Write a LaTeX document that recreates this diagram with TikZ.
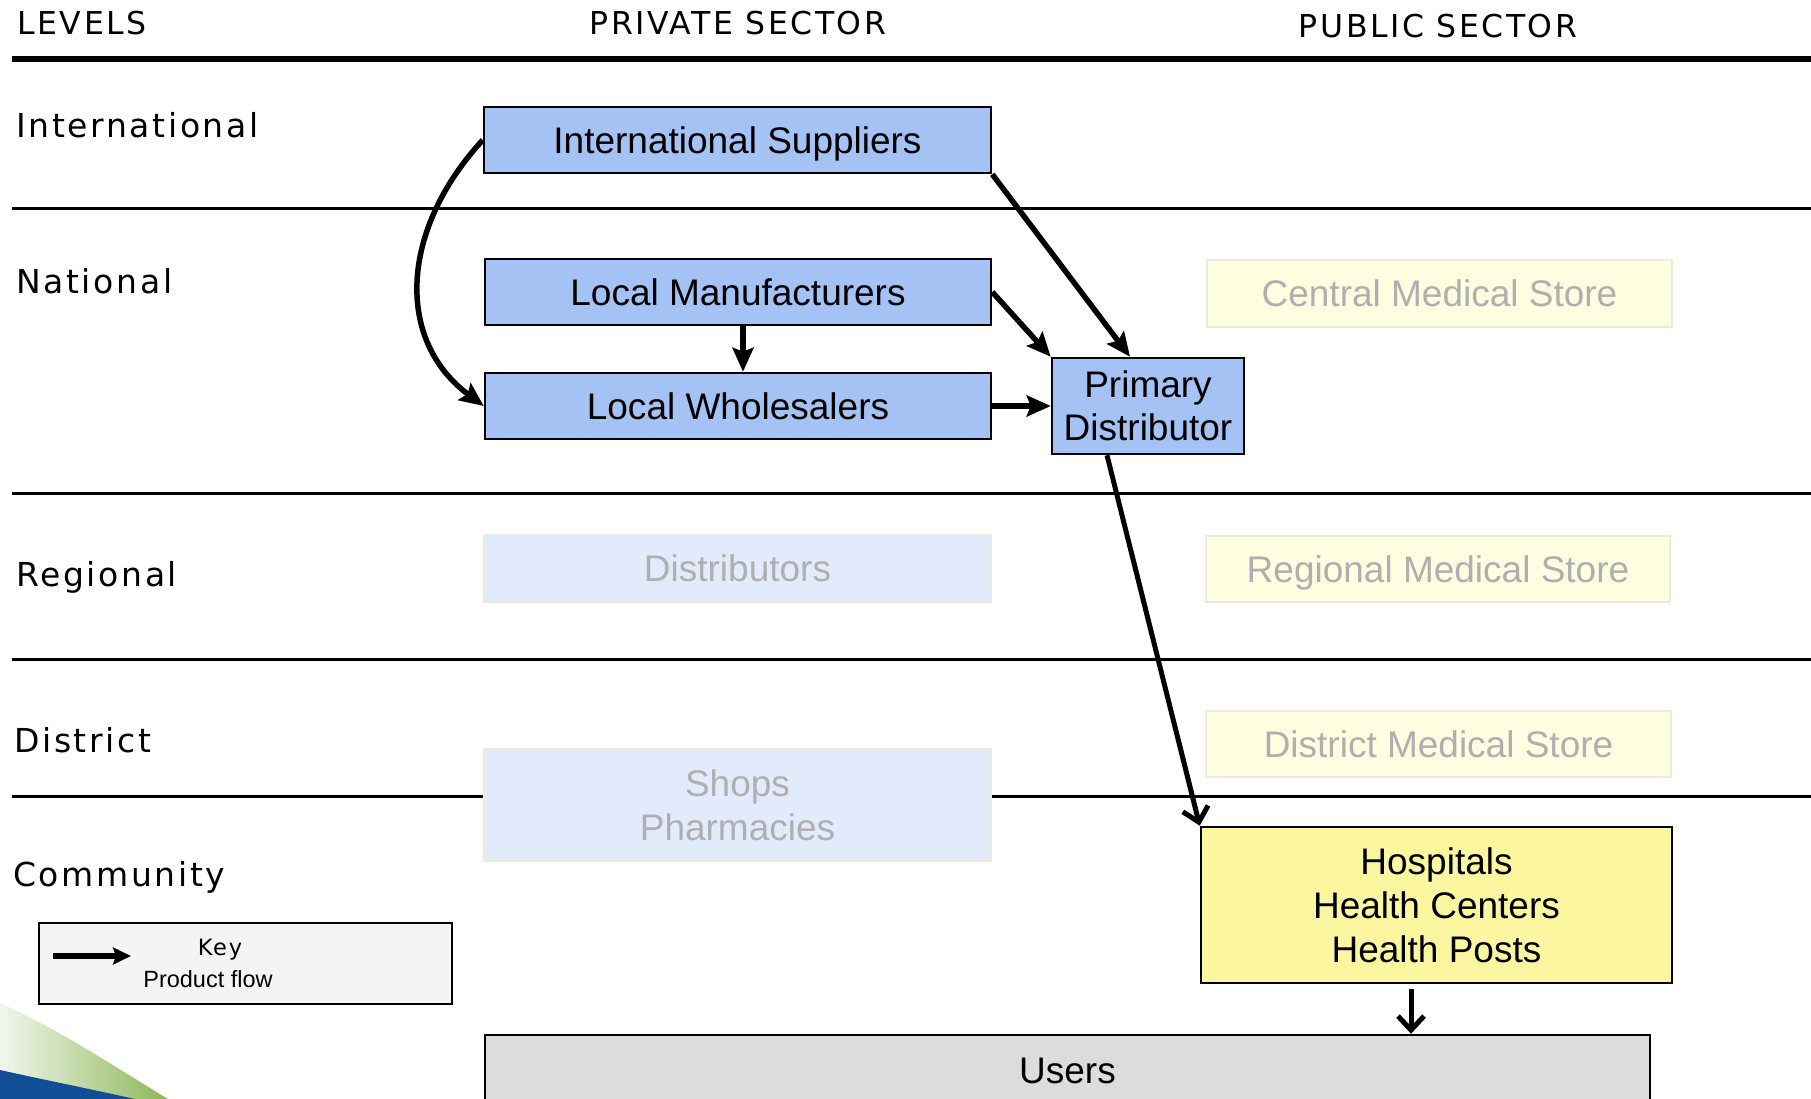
\documentclass[tikz,border=0pt]{standalone}
\usepackage{fontspec}
\setmainfont{Liberation Sans}
\newfontfamily\lvlfont{DejaVu Sans}[LetterSpace=8.0]
\usetikzlibrary{arrows.meta}
\definecolor{boxblue}{RGB}{164,194,244}
\definecolor{boxyellow}{RGB}{252,246,160}
\definecolor{fadeblue}{RGB}{226,235,252}
\definecolor{fadeyellow}{RGB}{254,254,224}
\definecolor{fadeedge}{RGB}{236,234,220}
\definecolor{fadetext}{RGB}{175,175,175}
\definecolor{usersgray}{RGB}{220,220,220}
\definecolor{keygray}{RGB}{244,244,244}
\definecolor{swgreen}{RGB}{140,184,90}
\definecolor{swblue}{RGB}{18,78,150}
\begin{document}
\begin{tikzpicture}[x=1pt,y=-1pt,
  lvl/.style={anchor=base west,inner sep=0pt,font=\lvlfont\fontsize{33}{38}\selectfont},
  head/.style={anchor=base,inner sep=0pt,font=\lvlfont\fontsize{31.5}{36}\selectfont},
  single/.style={text height=26.5pt,text depth=0pt},
  mainbox/.style={draw=black,line width=2.5pt,fill=boxblue,inner sep=0pt,
    font=\fontsize{37}{43}\selectfont,align=center},
  hospbox/.style={draw=black,line width=2.5pt,fill=boxyellow,inner sep=0pt,
    font=\fontsize{37}{44}\selectfont,align=center},
  fadebluebox/.style={draw=fadeedge,line width=1.5pt,fill=fadeblue,inner sep=0pt,text=fadetext,
    font=\fontsize{37}{44}\selectfont,align=center},
  fadeyellowbox/.style={draw=fadeedge,line width=1.5pt,fill=fadeyellow,inner sep=0pt,text=fadetext,
    font=\fontsize{37}{44}\selectfont,align=center},
  sepline/.style={line width=3pt},
  flow/.style={line width=5.5pt,-{Stealth[length=24pt,width=21pt,inset=4pt]}},
  openflow/.style={line width=5pt,-{Straight Barb[length=14pt,width=26pt,line width=5pt]}}
]
\useasboundingbox (0,0) rectangle (1811,1099);
\clip (0,0) rectangle (1811,1099);
\fill[white] (0,0) rectangle (1811,1099);

% bottom-left swoosh
\shade[left color=white!70!swgreen!40, right color=swgreen]
  (0,1003) .. controls (60,1030) and (120,1070) .. (168,1099) -- (0,1099) -- cycle;
\fill[swblue] (0,1070) .. controls (45,1080) and (95,1090) .. (135,1099) -- (0,1099) -- cycle;

% headings
\node[head] (hlevels) at (82,35) {LEVELS};
\node[head] (hpriv) at (738,35) {PRIVATE SECTOR};
\node[head] (hpub) at (1438,38) {PUBLIC SECTOR};

% separator lines
\coordinate (t0) at (12,59); \coordinate (t1) at (1811,59);
\draw[line width=5.5pt] (t0) -- (t1);
\coordinate (s1a) at (12,209); \coordinate (s1b) at (1811,209);
\coordinate (s2a) at (12,493); \coordinate (s2b) at (1811,493);
\coordinate (s3a) at (12,659); \coordinate (s3b) at (1811,659);
\coordinate (s4a) at (12,796); \coordinate (s4b) at (1811,796);
\draw[sepline] (s1a) -- (s1b);
\draw[sepline] (s2a) -- (s2b);
\draw[sepline] (s3a) -- (s3b);
\draw[sepline] (s4a) -- (s4b);

% level labels
\node[lvl] (lint) at (16,138) {International};
\node[lvl] (lnat) at (16,293) {National};
\node[lvl] (lreg) at (16,586) {Regional};
\node[lvl] (ldis) at (14,752) {District};
\node[lvl] (lcom) at (13,886) {Community};

% private sector boxes
\node[mainbox,single,minimum width=507pt,minimum height=66pt] (IS) at (737.5,140) {International Suppliers};
\node[mainbox,single,minimum width=506pt,minimum height=66pt] (LM) at (738,292) {Local Manufacturers};
\node[mainbox,single,minimum width=506pt,minimum height=66pt] (LW) at (738,406) {Local Wholesalers};
\node[mainbox,minimum width=192pt,minimum height=96pt] (PD) at (1148,406) {Primary\\Distributor};
\node[fadebluebox,single,minimum width=507pt,minimum height=67pt] (DI) at (737.5,568.5) {Distributors};
\node[fadebluebox,minimum width=507pt,minimum height=112pt] (SP) at (737.5,805) {Shops\\Pharmacies};

% public sector boxes
\node[fadeyellowbox,single,minimum width=465pt,minimum height=67pt] (CMS) at (1439.5,293.5) {Central Medical Store};
\node[fadeyellowbox,single,minimum width=464pt,minimum height=66pt] (RMS) at (1438,569) {Regional Medical Store};
\node[fadeyellowbox,single,minimum width=465pt,minimum height=66pt] (DMS) at (1438.5,744) {District Medical Store};
\node[hospbox,minimum width=471pt,minimum height=156pt] (HO) at (1436.5,905) {Hospitals\\Health Centers\\Health Posts};

% users
\node[draw=black,line width=2.5pt,fill=usersgray,inner sep=0pt,minimum width=1165pt,minimum height=84pt] (US) at (1067.5,1077) {};
\node[inner sep=0pt,font=\fontsize{37}{44}\selectfont,single] (UStext) at (1067.5,1070) {Users};

% key
\node[draw=black,line width=2.8pt,fill=keygray,minimum width=413pt,minimum height=81pt,inner sep=0pt] (KEY) at (245.5,963.5) {};
\node[inner sep=0pt,anchor=base,font=\lvlfont\fontsize{22.5}{26}\selectfont] (KEYt) at (220,955) {Key};
\node[inner sep=0pt,anchor=base,font=\fontsize{23.5}{27}\selectfont] (KEYp) at (208,987) {Product flow};
\coordinate (ka) at (53,956); \coordinate (kb) at (131,956);
\draw[line width=5.5pt,-{Stealth[length=18pt,width=17pt,inset=3pt]}] (ka) -- (kb);

% flows
\draw[flow] (IS.west) .. controls (400,230) and (395,340) .. (LW.west);
\draw[flow] (IS.south east) -- ([xshift=-18pt]PD.north);
\draw[flow] (LM.east) -- (PD.north west);
\draw[flow] (LW.east) -- (PD.west);
\draw[flow] ([xshift=5pt]LM.south) -- ([xshift=5pt]LW.north);
\draw[openflow] ([xshift=-41pt]PD.south) -- (HO.north west);
\draw[openflow] ([xshift=-25.5pt,yshift=-5pt]HO.south) -- ([xshift=-25.5pt]HO.south |- US.north);
\end{tikzpicture}
\end{document}
